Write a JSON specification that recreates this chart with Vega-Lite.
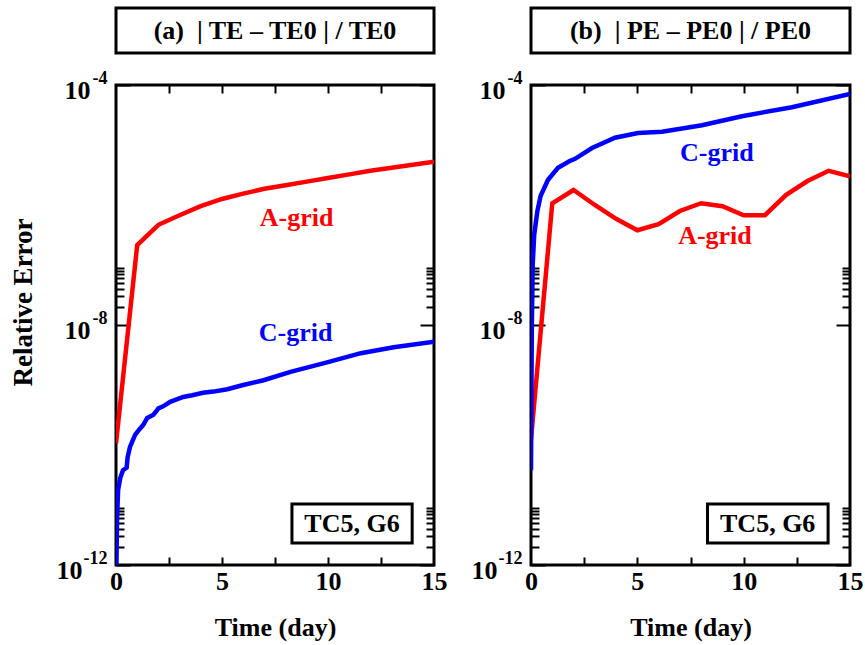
{
  "$schema": "https://vega.github.io/schema/vega-lite/v6.json",
  "padding": {"left": 7, "top": 6, "right": 5, "bottom": 5},
  "background": "white",
  "config": {
    "font": "Liberation Serif",
    "view": {"stroke": "black", "strokeWidth": 3},
    "axis": {"domain": false, "grid": false, "labelFont": "Liberation Serif", "labelFontWeight": "bold", "labelColor": "black", "titleFont": "Liberation Serif", "titleFontWeight": "bold", "titleColor": "black", "tickColor": "black", "tickWidth": 2, "labelOverlap": false, "labelFlush": false},
    "text": {"font": "Liberation Serif", "fontWeight": "bold"}
  },
  "datasets": {
    "te": [
      {"day": 0, "err": 1.07e-10, "grid": "A-grid"},
      {"day": 1, "err": 2.14e-7, "grid": "A-grid"},
      {"day": 2, "err": 4.68e-7, "grid": "A-grid"},
      {"day": 3, "err": 6.76e-7, "grid": "A-grid"},
      {"day": 4, "err": 9.55e-7, "grid": "A-grid"},
      {"day": 5, "err": 1.26e-6, "grid": "A-grid"},
      {"day": 6, "err": 1.55e-6, "grid": "A-grid"},
      {"day": 7, "err": 1.86e-6, "grid": "A-grid"},
      {"day": 8, "err": 2.14e-6, "grid": "A-grid"},
      {"day": 9, "err": 2.45e-6, "grid": "A-grid"},
      {"day": 10, "err": 2.82e-6, "grid": "A-grid"},
      {"day": 11, "err": 3.24e-6, "grid": "A-grid"},
      {"day": 12, "err": 3.72e-6, "grid": "A-grid"},
      {"day": 13, "err": 4.17e-6, "grid": "A-grid"},
      {"day": 14, "err": 4.68e-6, "grid": "A-grid"},
      {"day": 15, "err": 5.25e-6, "grid": "A-grid"},
      {"day": 0.02, "err": 1.0e-12, "grid": "C-grid"},
      {"day": 0.05, "err": 6.3e-12, "grid": "C-grid"},
      {"day": 0.1, "err": 1.78e-11, "grid": "C-grid"},
      {"day": 0.2, "err": 2.82e-11, "grid": "C-grid"},
      {"day": 0.33, "err": 3.8e-11, "grid": "C-grid"},
      {"day": 0.5, "err": 4.17e-11, "grid": "C-grid"},
      {"day": 0.55, "err": 6.3e-11, "grid": "C-grid"},
      {"day": 0.66, "err": 9.3e-11, "grid": "C-grid"},
      {"day": 0.9, "err": 1.48e-10, "grid": "C-grid"},
      {"day": 1.1, "err": 1.82e-10, "grid": "C-grid"},
      {"day": 1.3, "err": 2.19e-10, "grid": "C-grid"},
      {"day": 1.47, "err": 2.82e-10, "grid": "C-grid"},
      {"day": 1.75, "err": 3.16e-10, "grid": "C-grid"},
      {"day": 1.85, "err": 3.47e-10, "grid": "C-grid"},
      {"day": 2.0, "err": 4.07e-10, "grid": "C-grid"},
      {"day": 2.2, "err": 4.37e-10, "grid": "C-grid"},
      {"day": 2.56, "err": 5.25e-10, "grid": "C-grid"},
      {"day": 3.17, "err": 6.31e-10, "grid": "C-grid"},
      {"day": 3.6, "err": 6.76e-10, "grid": "C-grid"},
      {"day": 4.1, "err": 7.41e-10, "grid": "C-grid"},
      {"day": 4.6, "err": 7.76e-10, "grid": "C-grid"},
      {"day": 5.25, "err": 8.51e-10, "grid": "C-grid"},
      {"day": 6.0, "err": 1.0e-9, "grid": "C-grid"},
      {"day": 6.96, "err": 1.2e-9, "grid": "C-grid"},
      {"day": 8.23, "err": 1.66e-9, "grid": "C-grid"},
      {"day": 10.0, "err": 2.4e-9, "grid": "C-grid"},
      {"day": 11.55, "err": 3.39e-9, "grid": "C-grid"},
      {"day": 13.1, "err": 4.27e-9, "grid": "C-grid"},
      {"day": 15, "err": 5.25e-9, "grid": "C-grid"}
    ],
    "pe": [
      {"day": 0, "err": 1.26e-10, "grid": "A-grid"},
      {"day": 1, "err": 1.07e-6, "grid": "A-grid"},
      {"day": 2, "err": 1.78e-6, "grid": "A-grid"},
      {"day": 3, "err": 1.0e-6, "grid": "A-grid"},
      {"day": 4, "err": 5.89e-7, "grid": "A-grid"},
      {"day": 5, "err": 3.8e-7, "grid": "A-grid"},
      {"day": 6, "err": 4.79e-7, "grid": "A-grid"},
      {"day": 7, "err": 7.94e-7, "grid": "A-grid"},
      {"day": 8, "err": 1.07e-6, "grid": "A-grid"},
      {"day": 9, "err": 9.55e-7, "grid": "A-grid"},
      {"day": 10, "err": 6.76e-7, "grid": "A-grid"},
      {"day": 11, "err": 6.76e-7, "grid": "A-grid"},
      {"day": 12, "err": 1.48e-6, "grid": "A-grid"},
      {"day": 13, "err": 2.51e-6, "grid": "A-grid"},
      {"day": 14, "err": 3.72e-6, "grid": "A-grid"},
      {"day": 15, "err": 3.02e-6, "grid": "A-grid"},
      {"day": 0, "err": 3.8e-11, "grid": "C-grid"},
      {"day": 0.04, "err": 1.0e-8, "grid": "C-grid"},
      {"day": 0.08, "err": 1.0e-7, "grid": "C-grid"},
      {"day": 0.15, "err": 3.16e-7, "grid": "C-grid"},
      {"day": 0.3, "err": 7.94e-7, "grid": "C-grid"},
      {"day": 0.45, "err": 1.41e-6, "grid": "C-grid"},
      {"day": 0.8, "err": 2.63e-6, "grid": "C-grid"},
      {"day": 1.27, "err": 4.17e-6, "grid": "C-grid"},
      {"day": 1.8, "err": 5.37e-6, "grid": "C-grid"},
      {"day": 2.07, "err": 5.89e-6, "grid": "C-grid"},
      {"day": 2.87, "err": 8.91e-6, "grid": "C-grid"},
      {"day": 3.95, "err": 1.32e-5, "grid": "C-grid"},
      {"day": 5.03, "err": 1.58e-5, "grid": "C-grid"},
      {"day": 6.16, "err": 1.66e-5, "grid": "C-grid"},
      {"day": 8.04, "err": 2.14e-5, "grid": "C-grid"},
      {"day": 9.92, "err": 3.02e-5, "grid": "C-grid"},
      {"day": 12.27, "err": 4.27e-5, "grid": "C-grid"},
      {"day": 15, "err": 7.08e-5, "grid": "C-grid"}
    ],
    "labA": [
      {"day": 8.52, "err": 6.03e-7, "grid": "A-grid", "label": "A-grid"},
      {"day": 8.47, "err": 7.41e-9, "grid": "C-grid", "label": "C-grid"}
    ],
    "labB": [
      {"day": 8.65, "err": 3.02e-7, "grid": "A-grid", "label": "A-grid"},
      {"day": 8.74, "err": 7.41e-6, "grid": "C-grid", "label": "C-grid"}
    ],
    "box": [
      {"x1": 8.3, "x2": 13.97, "y1": 2.33e-12, "y2": 1.04e-11, "xc": 11.13, "yc": 4.9e-12, "label": "TC5, G6"}
    ]
  },
  "spacing": 20,
  "hconcat": [
    {
      "spacing": 12,
      "vconcat": [
        {
          "width": 318, "height": 45,
          "view": {"stroke": null},
          "data": {"values": [{"t": "(a)\u00a0 | TE – TE0 | / TE0"}]},
          "layer": [
            {"mark": {"type": "rect", "fill": "white", "stroke": "black", "strokeWidth": 3}, "encoding": {}},
            {"mark": {"type": "text", "fontSize": 26, "color": "black"}, "encoding": {"text": {"field": "t"}}}
          ]
        },
        {
          "width": 318, "height": 480,
          "resolve": {"axis": {"x": "independent", "y": "independent"}},
          "layer": [
            {
              "data": {"name": "te"},
              "mark": {"type": "line", "strokeWidth": 4.5, "clip": true},
              "encoding": {
                "x": {"field": "day", "type": "quantitative", "scale": {"domain": [0, 15], "nice": false, "zero": false},
                  "axis": {"orient": "bottom", "values": [0, 5, 10, 15], "ticks": false, "labelFontSize": 26, "labelPadding": 3, "title": "Time (day)", "titleFontSize": 26, "titlePadding": 20}},
                "y": {"field": "err", "type": "quantitative", "scale": {"type": "log", "domain": [1e-12, 1e-4], "nice": false},
                  "axis": {"orient": "left", "values": [1e-12, 1e-8, 1e-4], "ticks": false, "labelExpr": "'10'", "labelFontSize": 26, "labelPadding": {"condition": {"test": "datum.value < 1e-11", "value": 34}, "value": 26}, "labelOffset": 5, "labelAlign": "right", "labelBaseline": "middle", "title": "Relative Error", "titleFontSize": 27, "titlePadding": 19, "titleY": 217}},
                "color": {"field": "grid", "type": "nominal", "scale": {"domain": ["A-grid", "C-grid"], "range": ["#ff0000", "#0000ff"]}, "legend": null}
              }
            },
            {
              "data": {"name": "labA"},
              "mark": {"type": "text", "fontSize": 26},
              "encoding": {
                "x": {"field": "day", "type": "quantitative", "scale": {"domain": [0, 15], "nice": false, "zero": false},
                  "axis": {"orient": "top", "values": [2.5, 5, 7.5, 10, 12.5], "tickSize": -8, "labels": false, "title": null}},
                "y": {"field": "err", "type": "quantitative", "scale": {"type": "log", "domain": [1e-12, 1e-4], "nice": false},
                  "axis": {"orient": "left", "values": [1e-12, 1e-8, 1e-4], "ticks": false, "labelExpr": "'' + round(log(datum.value)/LN10)", "labelFontSize": 18, "labelPadding": 9, "labelOffset": -7, "labelAlign": "right", "labelBaseline": "middle", "title": null}},
                "text": {"field": "label"},
                "color": {"field": "grid", "type": "nominal", "scale": {"domain": ["A-grid", "C-grid"], "range": ["#ff0000", "#0000ff"]}, "legend": null}
              }
            },
            {
              "data": {"name": "box"},
              "mark": {"type": "rect", "fill": "white", "stroke": "black", "strokeWidth": 3},
              "encoding": {
                "x": {"field": "x1", "type": "quantitative", "scale": {"domain": [0, 15], "nice": false, "zero": false},
                  "axis": {"orient": "bottom", "values": [2.5, 5, 7.5, 10, 12.5], "tickSize": -8, "labels": false, "title": null}},
                "x2": {"field": "x2"},
                "y": {"field": "y1", "type": "quantitative", "scale": {"type": "log", "domain": [1e-12, 1e-4], "nice": false},
                  "axis": {"orient": "left", "values": [1e-12, 1e-8, 1e-4], "tickSize": -14, "labels": false, "title": null}},
                "y2": {"field": "y2"}
              }
            },
            {
              "data": {"name": "box"},
              "mark": {"type": "text", "fontSize": 26, "color": "black"},
              "encoding": {
                "x": {"field": "xc", "type": "quantitative", "scale": {"domain": [0, 15], "nice": false, "zero": false}, "axis": null},
                "y": {"field": "yc", "type": "quantitative", "scale": {"type": "log", "domain": [1e-12, 1e-4], "nice": false},
                  "axis": {"orient": "left", "values": [2e-12, 3e-12, 4e-12, 5e-12, 6e-12, 7e-12, 8e-12, 9e-12, 2e-8, 3e-8, 4e-8, 5e-8, 6e-8, 7e-8, 8e-8, 9e-8], "tickSize": -8, "labels": false, "title": null}},
                "text": {"field": "label"}
              }
            },
            {
              "data": {"name": "box"},
              "mark": {"type": "point", "opacity": 0},
              "encoding": {
                "x": {"field": "xc", "type": "quantitative", "scale": {"domain": [0, 15], "nice": false, "zero": false}, "axis": null},
                "y": {"field": "yc", "type": "quantitative", "scale": {"type": "log", "domain": [1e-12, 1e-4], "nice": false},
                  "axis": {"orient": "right", "values": [1e-12, 1e-8, 1e-4], "tickSize": -14, "labels": false, "title": null}}
              }
            },
            {
              "data": {"name": "box"},
              "mark": {"type": "point", "opacity": 0},
              "encoding": {
                "x": {"field": "xc", "type": "quantitative", "scale": {"domain": [0, 15], "nice": false, "zero": false}, "axis": null},
                "y": {"field": "yc", "type": "quantitative", "scale": {"type": "log", "domain": [1e-12, 1e-4], "nice": false},
                  "axis": {"orient": "right", "values": [2e-12, 3e-12, 4e-12, 5e-12, 6e-12, 7e-12, 8e-12, 9e-12, 2e-8, 3e-8, 4e-8, 5e-8, 6e-8, 7e-8, 8e-8, 9e-8], "tickSize": -8, "labels": false, "title": null}}
              }
            }
          ]
        }
      ]
    },
    {
      "spacing": 12,
      "vconcat": [
        {
          "width": 319, "height": 45,
          "view": {"stroke": null},
          "data": {"values": [{"t": "(b)\u00a0 | PE – PE0 | / PE0"}]},
          "layer": [
            {"mark": {"type": "rect", "fill": "white", "stroke": "black", "strokeWidth": 3}, "encoding": {}},
            {"mark": {"type": "text", "fontSize": 26, "color": "black"}, "encoding": {"text": {"field": "t"}}}
          ]
        },
        {
          "width": 319, "height": 480,
          "resolve": {"axis": {"x": "independent", "y": "independent"}},
          "layer": [
            {
              "data": {"name": "pe"},
              "mark": {"type": "line", "strokeWidth": 4.5, "clip": true},
              "encoding": {
                "x": {"field": "day", "type": "quantitative", "scale": {"domain": [0, 15], "nice": false, "zero": false},
                  "axis": {"orient": "bottom", "values": [0, 5, 10, 15], "ticks": false, "labelFontSize": 26, "labelPadding": 3, "title": "Time (day)", "titleFontSize": 26, "titlePadding": 20}},
                "y": {"field": "err", "type": "quantitative", "scale": {"type": "log", "domain": [1e-12, 1e-4], "nice": false},
                  "axis": {"orient": "left", "values": [1e-12, 1e-8, 1e-4], "ticks": false, "labelExpr": "'10'", "labelFontSize": 26, "labelPadding": {"condition": {"test": "datum.value < 1e-11", "value": 34}, "value": 26}, "labelOffset": 5, "labelAlign": "right", "labelBaseline": "middle", "title": null}},
                "color": {"field": "grid", "type": "nominal", "scale": {"domain": ["A-grid", "C-grid"], "range": ["#ff0000", "#0000ff"]}, "legend": null}
              }
            },
            {
              "data": {"name": "labB"},
              "mark": {"type": "text", "fontSize": 26},
              "encoding": {
                "x": {"field": "day", "type": "quantitative", "scale": {"domain": [0, 15], "nice": false, "zero": false},
                  "axis": {"orient": "top", "values": [2.5, 5, 7.5, 10, 12.5], "tickSize": -8, "labels": false, "title": null}},
                "y": {"field": "err", "type": "quantitative", "scale": {"type": "log", "domain": [1e-12, 1e-4], "nice": false},
                  "axis": {"orient": "left", "values": [1e-12, 1e-8, 1e-4], "ticks": false, "labelExpr": "'' + round(log(datum.value)/LN10)", "labelFontSize": 18, "labelPadding": 9, "labelOffset": -7, "labelAlign": "right", "labelBaseline": "middle", "title": null}},
                "text": {"field": "label"},
                "color": {"field": "grid", "type": "nominal", "scale": {"domain": ["A-grid", "C-grid"], "range": ["#ff0000", "#0000ff"]}, "legend": null}
              }
            },
            {
              "data": {"name": "box"},
              "mark": {"type": "rect", "fill": "white", "stroke": "black", "strokeWidth": 3},
              "encoding": {
                "x": {"field": "x1", "type": "quantitative", "scale": {"domain": [0, 15], "nice": false, "zero": false},
                  "axis": {"orient": "bottom", "values": [2.5, 5, 7.5, 10, 12.5], "tickSize": -8, "labels": false, "title": null}},
                "x2": {"field": "x2"},
                "y": {"field": "y1", "type": "quantitative", "scale": {"type": "log", "domain": [1e-12, 1e-4], "nice": false},
                  "axis": {"orient": "left", "values": [1e-12, 1e-8, 1e-4], "tickSize": -14, "labels": false, "title": null}},
                "y2": {"field": "y2"}
              }
            },
            {
              "data": {"name": "box"},
              "mark": {"type": "text", "fontSize": 26, "color": "black"},
              "encoding": {
                "x": {"field": "xc", "type": "quantitative", "scale": {"domain": [0, 15], "nice": false, "zero": false}, "axis": null},
                "y": {"field": "yc", "type": "quantitative", "scale": {"type": "log", "domain": [1e-12, 1e-4], "nice": false},
                  "axis": {"orient": "left", "values": [2e-12, 3e-12, 4e-12, 5e-12, 6e-12, 7e-12, 8e-12, 9e-12, 2e-8, 3e-8, 4e-8, 5e-8, 6e-8, 7e-8, 8e-8, 9e-8], "tickSize": -8, "labels": false, "title": null}},
                "text": {"field": "label"}
              }
            },
            {
              "data": {"name": "box"},
              "mark": {"type": "point", "opacity": 0},
              "encoding": {
                "x": {"field": "xc", "type": "quantitative", "scale": {"domain": [0, 15], "nice": false, "zero": false}, "axis": null},
                "y": {"field": "yc", "type": "quantitative", "scale": {"type": "log", "domain": [1e-12, 1e-4], "nice": false},
                  "axis": {"orient": "right", "values": [1e-12, 1e-8, 1e-4], "tickSize": -14, "labels": false, "title": null}}
              }
            },
            {
              "data": {"name": "box"},
              "mark": {"type": "point", "opacity": 0},
              "encoding": {
                "x": {"field": "xc", "type": "quantitative", "scale": {"domain": [0, 15], "nice": false, "zero": false}, "axis": null},
                "y": {"field": "yc", "type": "quantitative", "scale": {"type": "log", "domain": [1e-12, 1e-4], "nice": false},
                  "axis": {"orient": "right", "values": [2e-12, 3e-12, 4e-12, 5e-12, 6e-12, 7e-12, 8e-12, 9e-12, 2e-8, 3e-8, 4e-8, 5e-8, 6e-8, 7e-8, 8e-8, 9e-8], "tickSize": -8, "labels": false, "title": null}}
              }
            }
          ]
        }
      ]
    }
  ]
}
